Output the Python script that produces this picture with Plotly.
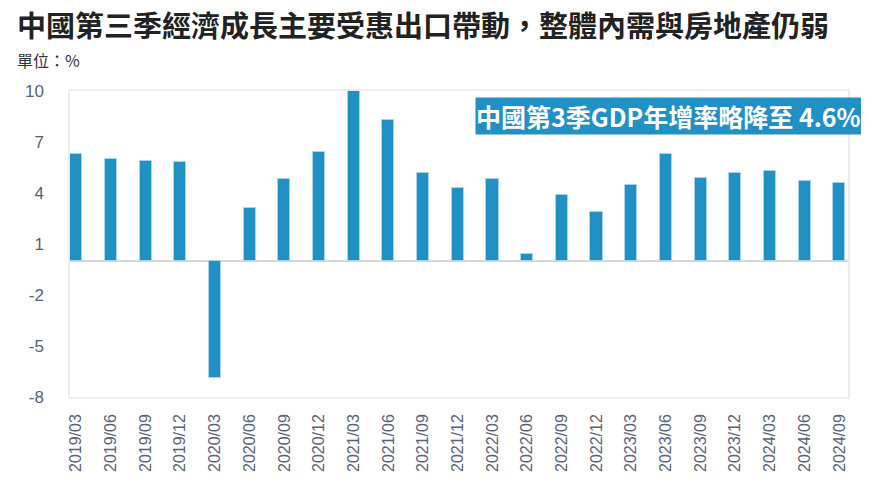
import plotly.graph_objects as go

categories = ["2019/03","2019/06","2019/09","2019/12","2020/03","2020/06","2020/09","2020/12",
              "2021/03","2021/06","2021/09","2021/12","2022/03","2022/06","2022/09","2022/12",
              "2023/03","2023/06","2023/09","2023/12","2024/03","2024/06","2024/09"]
gdp_yoy = [6.3, 6.0, 5.9, 5.8, -6.9, 3.1, 4.8, 6.4,
           18.3, 8.3, 5.2, 4.3, 4.8, 0.4, 3.9, 2.9,
           4.5, 6.3, 4.9, 5.2, 5.3, 4.7, 4.6]
y_ticks = [10, 7, 4, 1, -2, -5, -8]

title_text = "中國第三季經濟成長主要受惠出口帶動，整體內需與房地產仍弱"
unit_text = "單位：%"
note_text = "中國第3季GDP年增率略降至 4.6%"

CJK = "Noto Sans CJK TC"
NUM = "Liberation Sans, Arial, sans-serif"

x_idx = list(range(len(categories)))

fig = go.Figure()
fig.add_trace(go.Bar(
    x=x_idx, y=gdp_yoy, width=0.35,
    marker=dict(color="#2191c5", line=dict(color="#a8d3ea", width=1)),
    showlegend=False,
))

# page body has an 8px margin; figure sized to fit the 869x484 window
fig.update_layout(
    width=861, height=476,
    margin=dict(l=62, r=21, t=83, b=85),
    paper_bgcolor="white", plot_bgcolor="white",
    bargap=0,
    xaxis=dict(
        range=[-0.18, 22.25],
        tickmode="array", tickvals=x_idx, ticktext=categories,
        tickangle=-90,
        tickfont=dict(family=NUM, size=16, color="#5a6275"),
        ticks="outside", ticklen=9, tickcolor="rgba(0,0,0,0)",
        showgrid=False, zeroline=False,
        showline=True, mirror=True, linecolor="#ececec", linewidth=1.5,
    ),
    yaxis=dict(
        range=[-8, 10],
        tickmode="array", tickvals=y_ticks, ticktext=[str(v) for v in y_ticks],
        tickfont=dict(family=NUM, size=17, color="#5a6275"),
        ticks="outside", ticklen=21, tickcolor="rgba(0,0,0,0)",
        showgrid=False,
        zeroline=True, zerolinecolor="#d3d8e0", zerolinewidth=1.5,
        showline=True, mirror=True, linecolor="#ececec", linewidth=1.5,
    ),
    annotations=[
        dict(text="<b>" + title_text + "</b>", xref="paper", yref="paper",
             x=0, y=1, xshift=-55, yshift=67, xanchor="left", yanchor="middle",
             showarrow=False, font=dict(family=CJK, size=29, color="#222222")),
        dict(text=unit_text, xref="paper", yref="paper",
             x=0, y=1, xshift=-55, yshift=31, xanchor="left", yanchor="middle",
             showarrow=False, font=dict(family=CJK, size=16, color="#333333")),
        dict(text="<b>" + note_text + "</b>", xref="paper", yref="paper",
             x=1, y=(399 - 116.5) / 308, xshift=14, xanchor="right", yanchor="middle",
             showarrow=False, bgcolor="#2191c5", borderpad=0,
             font=dict(family=CJK, size=25, color="white")),
    ],
)

fig.write_html("out.html")
